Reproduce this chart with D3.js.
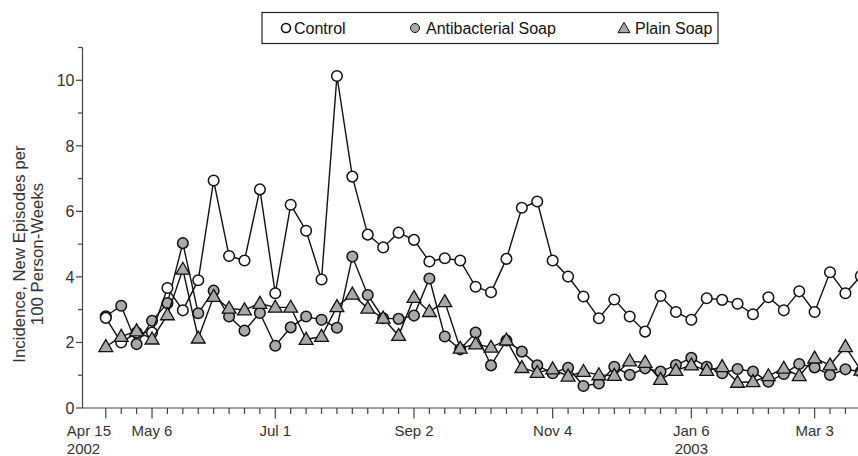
<!DOCTYPE html>
<html>
<head>
<meta charset="utf-8">
<script src="https://cdn.jsdelivr.net/npm/d3@7"></script>
<style>
  html, body { margin: 0; padding: 0; background: #fff; }
  svg { display: block; font-family: "Liberation Sans", Arial, Helvetica, sans-serif; }
</style>
</head>
<body>
<svg id="chart" width="858" height="456"></svg>
<script>
// ---- Data (weekly, starting Apr 15 2002) ----
const startDate = "2002-04-15";
const seriesNames = ["Control", "Antibacterial Soap", "Plain Soap"];
const control = [2.75, 2.0, 2.3, 2.3, 3.66, 2.98, 3.9, 6.94, 4.64, 4.5,
  6.67, 3.5, 6.2, 5.41, 3.92, 10.13, 7.06, 5.29, 4.9, 5.35,
  5.13, 4.47, 4.57, 4.5, 3.7, 3.53, 4.55, 6.11, 6.3, 4.5,
  4.01, 3.4, 2.74, 3.31, 2.79, 2.33, 3.42, 2.93, 2.69, 3.35,
  3.3, 3.18, 2.86, 3.38, 2.98, 3.56, 2.93, 4.14, 3.5, 4.03];
const antibacterial = [2.8, 3.12, 1.95, 2.66, 3.2, 5.03, 2.89, 3.58, 2.79, 2.36,
  2.9, 1.9, 2.46, 2.79, 2.69, 2.45, 4.62, 3.45, 2.74, 2.72,
  2.82, 3.95, 2.18, 1.79, 2.3, 1.3, 2.06, 1.72, 1.3, 1.06,
  1.23, 0.67, 0.75, 1.26, 1.01, 1.21, 1.11, 1.31, 1.53, 1.26,
  1.06, 1.19, 1.11, 0.8, 1.04, 1.34, 1.24, 1.01, 1.18, 1.11];
const plain = [1.87, 2.18, 2.35, 2.1, 2.84, 4.23, 2.13, 3.4, 3.04, 2.99,
  3.19, 3.07, 3.07, 2.09, 2.18, 3.09, 3.47, 3.04, 2.74, 2.21,
  3.37, 2.94, 3.24, 1.82, 1.95, 1.85, 2.07, 1.23, 1.08, 1.19,
  0.97, 1.11, 1.01, 0.99, 1.43, 1.39, 0.87, 1.14, 1.31, 1.14,
  1.26, 0.78, 0.8, 0.98, 1.21, 0.98, 1.52, 1.31, 1.87, 1.15];
const xTickLabels = [
  { date: "2002-04-15", lines: ["Apr 15", "2002"], align: "start" },
  { date: "2002-05-06", lines: ["May 6"] },
  { date: "2002-07-01", lines: ["Jul 1"] },
  { date: "2002-09-02", lines: ["Sep 2"] },
  { date: "2002-11-04", lines: ["Nov 4"] },
  { date: "2003-01-06", lines: ["Jan 6", "2003"] },
  { date: "2003-03-03", lines: ["Mar 3"] }
];
const yTickValues = [0, 2, 4, 6, 8, 10];
const yTitle = ["Incidence, New Episodes per", "100 Person-Weeks"];

// ---- Setup ----
const parse = d3.timeParse("%Y-%m-%d");
const t0 = parse(startDate);
const weeks = control.map((_, i) => d3.timeDay.offset(t0, 7 * i));

const svg = d3.select("#chart");
const W = 858, H = 456;
const axisColor = "#444";
const textColor = "#333";
const grey = "#a9a9a9";

const x = d3.scaleTime()
  .domain([d3.timeHour.offset(t0, -254), d3.timeHour.offset(t0, 8201)])
  .range([82.5, 858]);
const y = d3.scaleLinear().domain([0, 11]).range([408, 47.5]);

const g = svg.append("g");

// ---- Y axis ----
g.append("line").attr("x1", x.range()[0]).attr("x2", x.range()[0])
  .attr("y1", y(11)).attr("y2", y(0))
  .attr("stroke", axisColor).attr("stroke-width", 1.2);
d3.range(0, 12).forEach(v => {
  const major = v % 2 === 0;
  g.append("line")
    .attr("x1", x.range()[0]).attr("x2", x.range()[0] - (major ? 6.5 : 4.5))
    .attr("y1", y(v)).attr("y2", y(v))
    .attr("stroke", axisColor).attr("stroke-width", 1.2);
});
yTickValues.forEach(v => {
  g.append("text").attr("x", x.range()[0] - 8).attr("y", y(v))
    .attr("dy", "0.36em").attr("text-anchor", "end")
    .attr("font-size", 16).attr("fill", textColor).text(v);
});

// y title
const yt = g.append("text")
  .attr("transform", `translate(0,254) rotate(-90)`)
  .attr("text-anchor", "middle").attr("font-size", 16.8).attr("fill", textColor);
yTitle.forEach((s, i) => {
  yt.append("tspan").attr("x", 0).attr("y", 25 + i * 18).text(s);
});

// ---- X axis ----
g.append("line").attr("x1", x.range()[0]).attr("x2", W)
  .attr("y1", y(0)).attr("y2", y(0))
  .attr("stroke", axisColor).attr("stroke-width", 1.2);
const majorSet = new Set(xTickLabels.map(d => d.date));
const fmt = d3.timeFormat("%Y-%m-%d");
const tickDates = d3.range(0, 52).map(i => d3.timeDay.offset(t0, 7 * i)).filter(d => x(d) <= W);
tickDates.forEach(d => {
  const major = majorSet.has(fmt(d));
  g.append("line").attr("x1", x(d)).attr("x2", x(d))
    .attr("y1", y(0)).attr("y2", y(0) + (major ? 10.5 : 6))
    .attr("stroke", axisColor).attr("stroke-width", 1.2);
});
xTickLabels.forEach(t => {
  const px = x(parse(t.date));
  const txt = g.append("text").attr("font-size", 15).attr("fill", textColor)
    .attr("text-anchor", t.align === "start" ? "start" : "middle");
  t.lines.forEach((s, i) => {
    txt.append("tspan")
      .attr("x", t.align === "start" ? px - 39 : px)
      .attr("y", 436 + i * 18).text(s);
  });
});

// ---- Series ----
svg.append("clipPath").attr("id", "plotclip")
  .append("rect").attr("x", 0).attr("y", 0).attr("width", W).attr("height", H);

const line = d3.line().x((d, i) => x(weeks[i])).y(d => y(d));
const tri = (s) => `M0,${-s * 0.62}L${s * 0.6},${s * 0.42}L${-s * 0.6},${s * 0.42}Z`;

const plot = svg.append("g").attr("clip-path", "url(#plotclip)");

function drawSeries(vals, kind) {
  plot.append("path").datum(vals).attr("d", line)
    .attr("fill", "none").attr("stroke", "#111").attr("stroke-width", 1.4);
  const pts = plot.append("g");
  vals.forEach((v, i) => {
    if (kind === "tri") {
      pts.append("path").attr("d", tri(11.5))
        .attr("transform", `translate(${x(weeks[i])},${y(v)})`)
        .attr("fill", grey).attr("stroke", "#111").attr("stroke-width", 1.3);
    } else {
      pts.append("circle").attr("cx", x(weeks[i])).attr("cy", y(v)).attr("r", 5.3)
        .attr("fill", kind === "open" ? "#fff" : grey)
        .attr("stroke", "#111").attr("stroke-width", 1.5);
    }
  });
}
drawSeries(antibacterial, "grey");
drawSeries(control, "open");
drawSeries(plain, "tri");

// ---- Legend ----
const lg = svg.append("g");
lg.append("rect").attr("x", 262).attr("y", 12.5).attr("width", 456).attr("height", 31)
  .attr("fill", "#fff").attr("stroke", "#222").attr("stroke-width", 1.2);
const legendItems = [
  { name: seriesNames[0], kind: "open", sx: 286, tx: 294 },
  { name: seriesNames[1], kind: "grey", sx: 415, tx: 426 },
  { name: seriesNames[2], kind: "tri", sx: 624, tx: 635 }
];
legendItems.forEach(it => {
  if (it.kind === "tri") {
    lg.append("path").attr("d", tri(10)).attr("transform", `translate(${it.sx},28.5)`)
      .attr("fill", grey).attr("stroke", "#111").attr("stroke-width", 1);
  } else {
    lg.append("circle").attr("cx", it.sx).attr("cy", 28).attr("r", 4.5)
      .attr("fill", it.kind === "open" ? "#fff" : grey)
      .attr("stroke", "#111").attr("stroke-width", it.kind === "open" ? 1.6 : 1);
  }
  lg.append("text").attr("x", it.tx).attr("y", 28).attr("dy", "0.36em")
    .attr("font-size", 16).attr("fill", "#111").text(it.name);
});
</script>
</body>
</html>
